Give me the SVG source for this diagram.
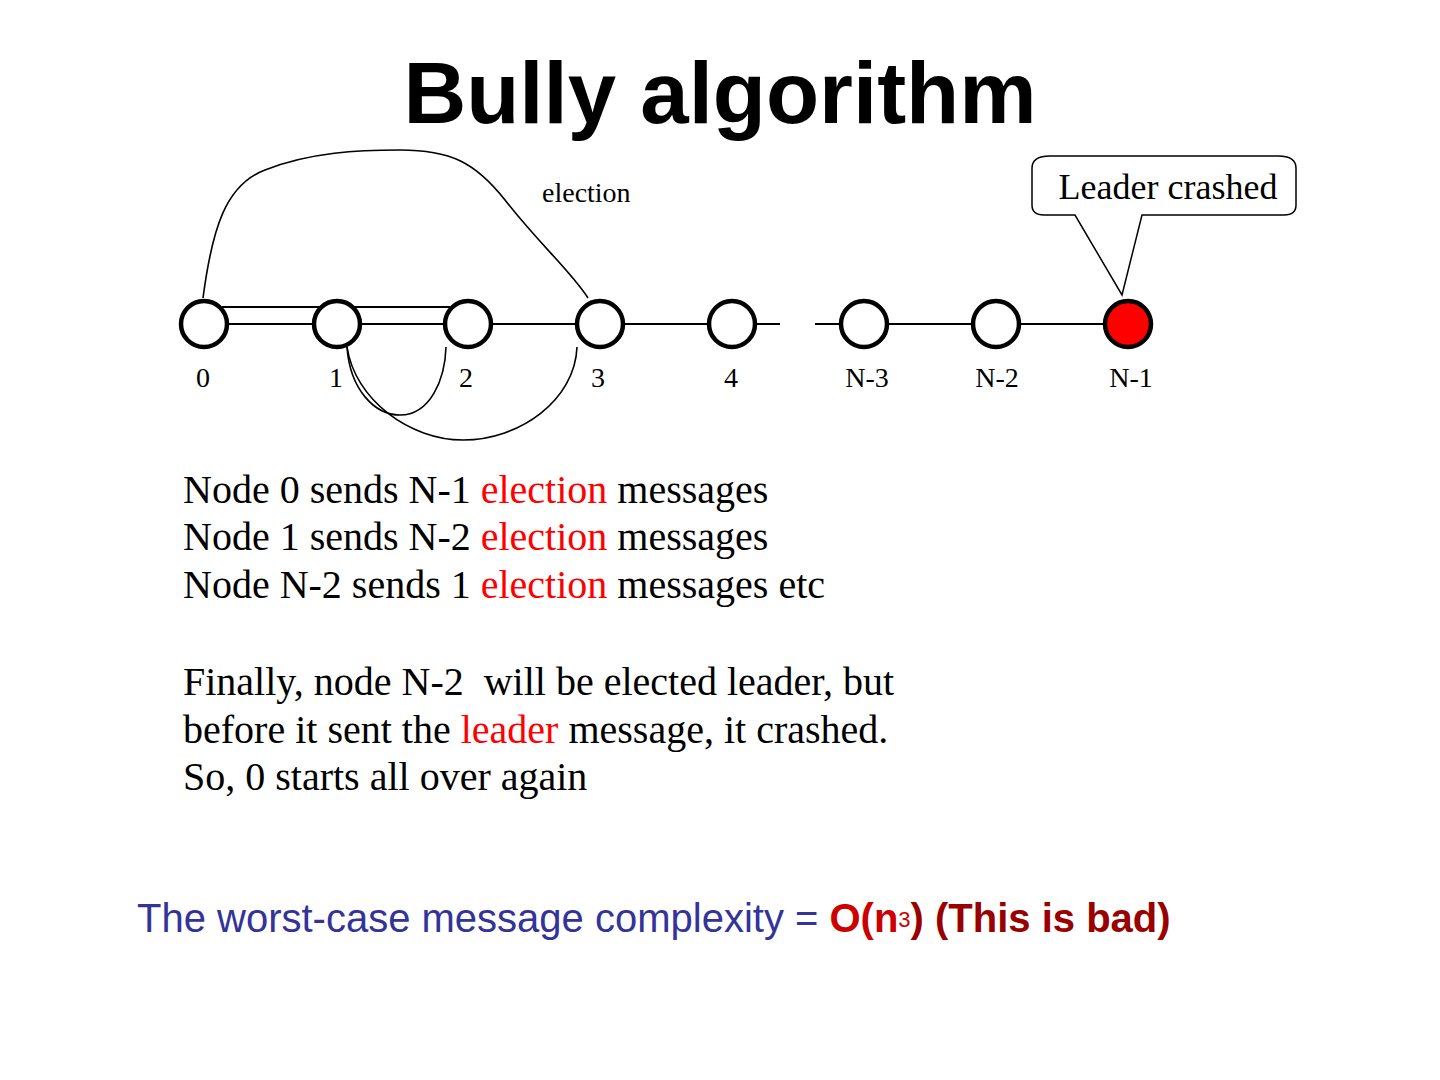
<svg xmlns="http://www.w3.org/2000/svg" width="1440" height="1080" viewBox="0 0 1440 1080">
<style>
.node{fill:#fff;stroke:#000;stroke-width:4.5}
.lbl{font-family:"Liberation Serif",serif;font-size:28px;text-anchor:middle}
.edge{stroke:#000;stroke-width:2;fill:none}
.arc{stroke:#000;stroke-width:1.6;fill:none}
.body{font-family:"Liberation Serif",serif;font-size:40px}
.red{fill:#ff0000}
</style>
<rect width="1440" height="1080" fill="#fff"/>
<text x="720" y="123" font-family="Liberation Sans, sans-serif" font-weight="bold" font-size="87" text-anchor="middle">Bully algorithm</text>
<g id="connectors">
<line class="edge" x1="204" y1="324" x2="780" y2="324"/>
<line class="edge" x1="815" y1="324" x2="1128" y2="324"/>
<line class="edge" x1="222" y1="307" x2="450" y2="307"/>
<path class="arc" d="M203,298 C212,230 225,185 265,170 C310,152 360,150 400,150 C450,150 475,162 505,200 C540,245 570,270 588,298"/>
<path class="arc" d="M347,347 C350,390 375,415 400,415 C430,415 445,380 446,347"/>
<path class="arc" d="M347,347 C355,400 410,440 463,440 C520,440 575,400 577,347"/>
</g>
<g id="n0"><circle class="node" cx="204" cy="324" r="23"/><text class="lbl" x="203" y="387">0</text></g>
<g id="n1"><circle class="node" cx="337" cy="324" r="23"/><text class="lbl" x="336" y="387">1</text></g>
<g id="n2"><circle class="node" cx="468" cy="324" r="23"/><text class="lbl" x="466" y="387">2</text></g>
<g id="n3"><circle class="node" cx="600" cy="324" r="23"/><text class="lbl" x="598" y="387">3</text></g>
<g id="n4"><circle class="node" cx="732" cy="324" r="23"/><text class="lbl" x="731" y="387">4</text></g>
<g id="nN-3"><circle class="node" cx="864" cy="324" r="23"/><text class="lbl" x="867" y="387">N-3</text></g>
<g id="nN-2"><circle class="node" cx="996" cy="324" r="23"/><text class="lbl" x="997" y="387">N-2</text></g>
<g id="nN-1"><circle class="node" cx="1128" cy="324" r="23" style="fill:#ff0000"/><text class="lbl" x="1131" y="387">N-1</text></g>
<text x="542" y="202" font-family="Liberation Serif, serif" font-size="28">election</text>
<g id="callout">
<path d="M1075,215 L1044,215 Q1032,215 1032,205 L1032,168 Q1032,156 1050,156 L1278,156 Q1296,156 1296,168 L1296,205 Q1296,215 1284,215 L1142,215 L1122,295 Z" fill="#fff" stroke="#000" stroke-width="1.5"/>
<text x="1168" y="199" font-family="Liberation Serif, serif" font-size="36" text-anchor="middle">Leader crashed</text>
</g>
<text class="body" x="183" y="503">Node 0 sends N-1 <tspan class="red">election</tspan> messages</text>
<text class="body" x="183" y="550">Node 1 sends N-2 <tspan class="red">election</tspan> messages</text>
<text class="body" x="183" y="598">Node N-2 sends 1 <tspan class="red">election</tspan> messages etc</text>
<text class="body" x="183" y="695" xml:space="preserve">Finally, node N-2  will be elected leader, but</text>
<text class="body" x="183" y="743">before it sent the <tspan class="red">leader</tspan> message, it crashed.</text>
<text class="body" x="183" y="790">So, 0 starts all over again</text>
<text x="137" y="932" font-family="Liberation Sans, sans-serif" font-size="40" fill="#333399">The worst-case message complexity = <tspan fill="#cc0000" font-weight="bold">O(n<tspan font-size="22" font-weight="normal" dy="-5">3</tspan></tspan><tspan fill="#990000" font-weight="bold" dy="5">) (This is bad)</tspan></text>
</svg>
